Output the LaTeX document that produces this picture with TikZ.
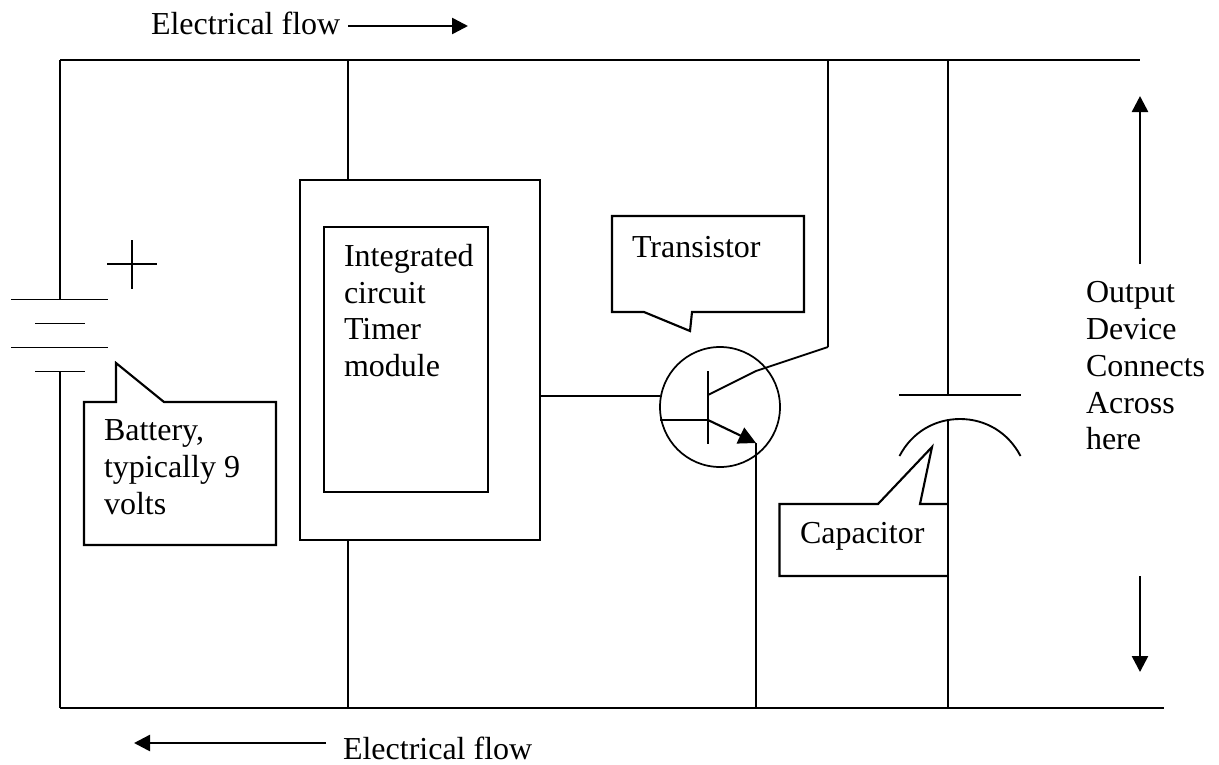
\documentclass[tikz,border=0pt]{standalone}
\usepackage{fontspec}
\setmainfont{Liberation Serif}
\usetikzlibrary{arrows.meta}

\begin{document}
\begin{tikzpicture}[
  x=0.75pt, y=-0.75pt,
  line width=1.6pt,
  every node/.style={
    inner sep=0pt, outer sep=0pt
  },
  label/.style={
    font=\fontsize{24}{27.6}\selectfont, align=left, anchor=north west
  },
  plate/.style={
    line width=1.4pt
  },
  flow/.style={
    line width=1.9pt, -{Triangle[length=12pt,width=12pt]}
  }
  ]
  \useasboundingbox (0,0) rectangle (1219,764);

  % rails
  \coordinate (railTL) at (60,60);
  \coordinate (railTR) at (1140,60);
  \coordinate (railBL) at (60,708);
  \coordinate (railBR) at (1164,708);
  \coordinate (gapL) at (132,60);
  \coordinate (gapR) at (396,60);
  \draw (railTL) -- (gapL);
  \draw[line width=0.8pt] (gapL) -- (gapR);
  \draw (gapR) -- (railTR);
  \draw (railBL) -- (railBR);

  % battery
  \coordinate (batTop) at (60,299.5);
  \coordinate (batBot) at (60,371.5);
  \draw (railTL) -- (batTop);
  \draw (batBot) -- (railBL);
  \draw[plate] (11,299.5) -- (108,299.5);
  \draw[plate] (35,323.5) -- (85,323.5);
  \draw[plate] (11,347.5) -- (108,347.5);
  \draw[plate] (35,371.5) -- (85,371.5);
  \draw[plate] (107,264) -- (157,264);
  \draw[plate] (132,240) -- (132,289);

  % battery callout
  \draw (84,402) -- (116,402) -- (116,363) -- (164,402) -- (276,402)
    -- (276,545) -- (84,545) -- cycle;
  \node[label] (batText) at (104,420) {Battery,\\typically 9\\volts};

  % timer
  \node[draw, minimum width=180pt, minimum height=270pt] (ic) at (420,360) {};
  \node[draw, minimum width=123pt, minimum height=198.75pt] (icIn) at (406,359.5) {};
  \node[label] (icText) at (344,244) {Integrated\\circuit\\Timer\\module};
  \draw (348,60) -- (348,180);
  \draw (348,540) -- (348,708);

  % transistor
  \node[draw, circle, line width=1.3pt, minimum size=90pt] (trans) at (720,407) {};
  \coordinate (baseIn) at (660,396);
  \coordinate (baseJ) at (708,420);
  \coordinate (colJ) at (708,395);
  \coordinate (colKnee) at (756,371);
  \coordinate (colTop) at (828,347);
  \coordinate (emit) at (756,443);
  \draw (540,396) -- (baseIn);
  \draw[plate] (660,420) -- (baseJ);
  \draw (708,371) -- (708,444);
  \draw[plate] (colJ) -- (colKnee) -- (colTop);
  \draw (colTop) -- (828,60);
  \draw[-{Triangle[length=13pt,width=13pt]}] (baseJ) -- (emit);
  \draw (emit) -- (756,708);

  % transistor callout
  \draw (612,216) -- (804,216) -- (804,312) -- (692,312) -- (690,331)
    -- (644,312) -- (612,312) -- cycle;
  \node[label] (transText) at (632,236) {Transistor};

  % capacitor
  \coordinate (capTop) at (948,395);
  \coordinate (capArc) at (948,420);
  \draw (948,60) -- (capTop);
  \draw[plate] (899,395) -- (1021,395);
  \draw[plate] (899.5,456) .. controls (912,432) and (935,419) .. (960,419)
    .. controls (985,419) and (1008,432) .. (1020.5,456);
  \draw (capArc) -- (948,708);

  % capacitor callout
  \draw (948,504) -- (920,504) -- (932,447) -- (878,504) -- (779.5,504)
    -- (779.5,576) -- (948,576);
  \node[label] (capText) at (800,522) {Capacitor};

  % output
  \draw[flow] (1140,264) -- (1140,96);
  \draw[flow] (1140,576) -- (1140,672);
  \node[label] (outText) at (1086,281.5) {Output\\Device\\Connects\\Across\\here};

  % flow labels
  \node[label] (flowTop) at (151,12) {Electrical flow};
  \node[label] (flowBot) at (343,737) {Electrical flow};
  \draw[flow] (348,26) -- (468,26);
  \draw[flow] (326,743) -- (134,743);
\end{tikzpicture}
\end{document}
